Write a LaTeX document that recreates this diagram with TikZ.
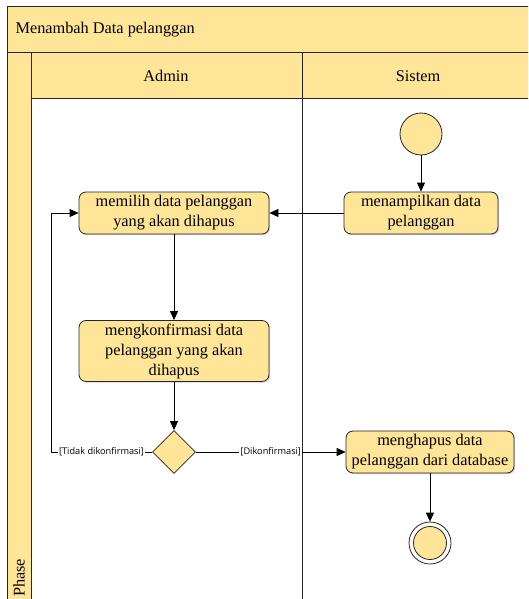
\documentclass[tikz,border=0pt]{standalone}
\usepackage{fontspec}
\setmainfont{Liberation Serif}
\newfontfamily\guardfont{Open Sans}
\usetikzlibrary{arrows.meta,positioning,shapes.geometric,shadows}
\definecolor{actfill}{HTML}{FFE597}
\definecolor{edge}{HTML}{262626}

\begin{document}
\begin{tikzpicture}[x=1pt,y=-1pt,>={Triangle[length=9pt,width=8pt]},
  lane/.style={draw=edge,line width=1pt},
  act/.style={draw=edge,line width=0.8pt,fill=actfill,rounded corners=7pt,align=center,
    inner sep=2pt,font=\fontsize{16.3}{20}\selectfont,
    drop shadow={shadow xshift=1.2pt,shadow yshift=-1.2pt,fill=blue!40!gray,opacity=0.25}},
  state/.style={circle,draw=edge,line width=0.8pt,fill=actfill,inner sep=0pt},
  guard/.style={fill=white,inner sep=1pt,font=\guardfont\fontsize{9.2}{11}\selectfont},
  flow/.style={->,line width=0.8pt,draw=black}]
  \clip (0,0) rectangle (528,599);
  \fill[white] (0,0) rectangle (528,599);

  % swimlane frame
  \draw[lane,fill=actfill] (7,7) rectangle (545,53);
  \draw[lane,fill=actfill] (31,53) rectangle (545,99);
  \draw[lane,fill=actfill] (7,53) rectangle (31,620);
  \draw[lane] (31,99) -- (31,620);
  \draw[lane] (302,53) -- (302,620);
  \node[anchor=west,font=\fontsize{16.3}{20}\selectfont] (ttl) at (12,30) {Menambah Data pelanggan};
  \node[font=\fontsize{16.3}{20}\selectfont] (admin) at (166,76) {Admin};
  \node[font=\fontsize{16.3}{20}\selectfont] (sistem) at (418,76) {Sistem};
  \node[anchor=west,rotate=90,font=\fontsize{16.3}{20}\selectfont,inner sep=1pt] (phase) at (19,598) {Phase};

  % activity nodes
  \node[state,minimum size=42pt] (start) at (421,134) {};
  \node[act,minimum width=154pt,minimum height=42pt] (tampil) at (421,213) {menampilkan data\\pelanggan};
  \node[act,minimum width=190pt,minimum height=42pt] (pilih) at (174,213) {memilih data pelanggan\\yang akan dihapus};
  \node[act,minimum width=190pt,minimum height=61pt] (konfirm) at (174,351) {mengkonfirmasi data\\pelanggan yang akan\\dihapus};
  \node[diamond,draw=edge,line width=0.8pt,fill=actfill,inner sep=0pt,minimum size=43pt] (dec) at (174,452) {};
  \node[act,minimum width=168pt,minimum height=42pt] (hapus) at (430,452) {menghapus data\\pelanggan dari database};
  \node[circle,draw=edge,line width=0.8pt,fill=white,minimum size=42pt,inner sep=0pt] (end) at (430,543) {};
  \node[state,minimum size=33pt] (endin) at (end) {};
  \coordinate (back) at (51,452);

  % flows
  \draw[flow] (start) -- (tampil);
  \draw[flow] (tampil) -- (pilih);
  \draw[flow] (pilih) -- (konfirm);
  \draw[flow] (konfirm) -- (dec);
  \draw[flow] (dec) -- node[guard] {[Dikonfirmasi]} (hapus);
  \draw[flow] (dec.west) -- node[guard] {[Tidak dikonfirmasi]} (back) |- (pilih.west);
  \draw[flow] (hapus) -- (end);
\end{tikzpicture}
\end{document}
